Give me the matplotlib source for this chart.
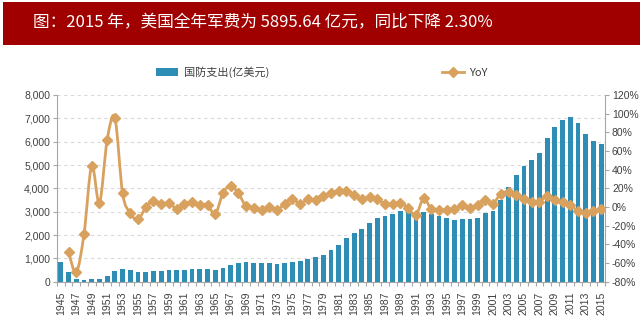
import numpy as np
import matplotlib
matplotlib.use('Agg')
import matplotlib.pyplot as plt
from matplotlib.path import Path
from matplotlib.patches import PathPatch, Rectangle, Patch
from matplotlib.lines import Line2D
from matplotlib.ticker import FuncFormatter

plt.rcParams['font.family'] = ['Noto Sans CJK SC', 'DejaVu Sans']

years = list(range(1945, 2016))

# 国防支出 (亿美元)
spending = [830, 427, 128, 91, 132, 137, 236, 461, 528, 493,
            427, 425, 454, 468, 490, 481, 496, 524, 534, 548,
            506, 581, 714, 819, 825, 817, 789, 792, 767, 794,
            865, 896, 972, 1045, 1163, 1340, 1575, 1853, 2099, 2274,
            2528, 2734, 2820, 2904, 3036, 2993, 2733, 2984, 2911, 2816,
            2721, 2658, 2705, 2682, 2748, 2944, 3047, 3485, 4047, 4558,
            4953, 5218, 5513, 6161, 6611, 6935, 7056, 6779, 6335, 6035,
            5896]

# YoY (%), starts at 1946
yoy_years = years[1:]
yoy = [-48.6, -70.0, -28.9, 44.3, 4.3, 71.8, 95.5, 14.6, -6.7,
       -13.3, -0.5, 6.8, 3.1, 4.7, -1.8, 3.1, 5.5, 2.0, 2.5,
       -7.6, 14.8, 22.9, 14.7, 0.7, -1.0, -3.5, 0.4, -3.1, 3.5,
       9.0, 3.6, 8.5, 7.5, 11.3, 15.2, 17.6, 17.6, 13.3, 8.3,
       11.1, 8.2, 3.2, 3.0, 4.5, -1.4, -8.7, 9.2, -2.4, -3.2,
       -3.4, -2.3, 1.8, -0.8, 2.4, 7.1, 3.5, 14.4, 16.1, 12.6,
       8.7, 5.4, 5.6, 11.8, 7.3, 4.9, 1.7, -3.9, -6.5, -4.7,
       -2.3]

title = '图：2015 年，美国全年军费为 5895.64 亿元，同比下降 2.30%'

bar_color = '#2E8DB5'
line_color = '#D9A15E'
text_color = '#404040'
axis_color = '#A6A6A6'


def smooth_path(x, y, t=1/6):
    # Excel style smoothed line as cubic bezier through the points
    pts = np.column_stack([x, y]).astype(float)
    n = len(pts)
    verts = [pts[0]]
    codes = [Path.MOVETO]
    for i in range(n - 1):
        p0 = pts[i - 1] if i > 0 else pts[i]
        p1, p2 = pts[i], pts[i + 1]
        p3 = pts[i + 2] if i + 2 < n else pts[i + 1]
        verts += [p1 + (p2 - p0) * t, p2 - (p3 - p1) * t, p2]
        codes += [Path.CURVE4] * 3
    return Path(verts, codes)


fig = plt.figure(figsize=(6.4, 3.3), dpi=100)

# title banner
fig.patches.append(Rectangle((3/640, 1 - 45/330), 1, 43/330, transform=fig.transFigure,
                             facecolor='#A00000', edgecolor='none', zorder=0))
fig.text(33/640, 1 - 23/330, title, color='white', fontsize=12, va='center', ha='left')

ax = fig.add_axes([57/640, 1 - 281.7/330, 548/640, 186.7/330])
x = np.arange(len(years))
ax.bar(x, spending, width=0.62, color=bar_color, zorder=2)
ax.set_xlim(-0.5, len(years) - 0.5)
ax.set_ylim(0, 8000)
ax.set_yticks(range(0, 8001, 1000))
ax.yaxis.set_major_formatter(FuncFormatter(lambda v, p: f'{int(v):,}'))
ax.yaxis.grid(True, linestyle=(0, (3, 3)), color='#D9D9D9', linewidth=0.8, zorder=0)
ax.set_axisbelow(True)

ax.set_xticks(x[::2])
ax.set_xticklabels([str(yr) for yr in years[::2]], rotation=90, fontsize=7.6,
                   color=text_color, family=['Liberation Sans'])
ax.set_xticks(np.arange(-0.5, len(years), 1), minor=True)
ax.tick_params(axis='x', which='major', length=0, pad=7)
ax.tick_params(axis='x', which='minor', length=3, color=axis_color, width=0.8)
ax.tick_params(axis='y', length=3, color=axis_color, width=0.8, labelsize=7.5,
               labelcolor=text_color, pad=2)
for lbl in ax.get_yticklabels():
    lbl.set_family(['Liberation Sans'])

for s in ['top', 'right']:
    ax.spines[s].set_visible(False)
for s in ['left', 'bottom']:
    ax.spines[s].set_color(axis_color)
    ax.spines[s].set_linewidth(0.8)

ax2 = ax.twinx()
ax2.set_ylim(-80, 120)
ax2.set_yticks(range(-80, 121, 20))
ax2.yaxis.set_major_formatter(FuncFormatter(lambda v, p: f'{int(v)}%'))
ax2.tick_params(axis='y', length=3, color=axis_color, width=0.8, labelsize=7.5,
                labelcolor=text_color, pad=2)
for lbl in ax2.get_yticklabels():
    lbl.set_family(['Liberation Sans'])
for s in ['top', 'left', 'bottom']:
    ax2.spines[s].set_visible(False)
ax2.spines['right'].set_color(axis_color)
ax2.spines['right'].set_linewidth(0.8)

yx = np.arange(1, len(years))
ax2.add_patch(PathPatch(smooth_path(yx, yoy), facecolor='none', edgecolor=line_color,
                        linewidth=2, zorder=3))
ax2.plot(yx, yoy, linestyle='none', marker='D', markersize=5.5, color=line_color, zorder=4)

handles = [Patch(facecolor=bar_color, edgecolor='none'),
           Line2D([], [], color=line_color, linewidth=2, marker='D', markersize=5.5)]
fig.legend(handles, ['国防支出(亿美元)', 'YoY'], loc='center',
           bbox_to_anchor=(322/640, 1 - 72/330), ncol=2, frameon=False,
           fontsize=8, labelcolor=text_color, columnspacing=15.5,
           handlelength=2.0, handleheight=0.7, handletextpad=0.5)

fig.savefig('out.png', dpi=100, facecolor='white')
